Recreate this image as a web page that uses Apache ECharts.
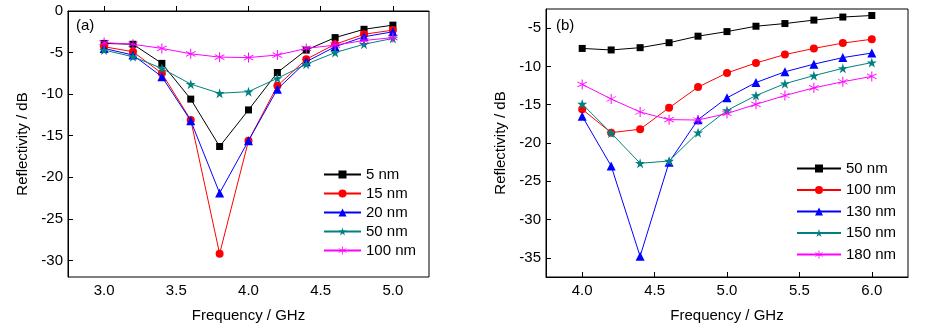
<!DOCTYPE html>
<html>
<head>
<meta charset="utf-8">
<script src="https://cdn.jsdelivr.net/npm/echarts@6/dist/echarts.min.js"></script>
<style>
  html, body { margin: 0; padding: 0; background: #fff; }
  #wrap { position: relative; width: 925px; height: 328px; }
  #chartA { position: absolute; left: 0; top: 0; width: 462px; height: 328px; }
  #chartB { position: absolute; left: 462px; top: 0; width: 463px; height: 328px; }
</style>
</head>
<body>
<div id="wrap"><div id="chartA"></div><div id="chartB"></div></div>
<script>
// Panel (a): reflectivity vs frequency for thin layers
const freqA = [3.0, 3.2, 3.4, 3.6, 3.8, 4.0, 4.2, 4.4, 4.6, 4.8, 5.0];
const namesA = ['5 nm', '15 nm', '20 nm', '50 nm', '100 nm'];
const a5nm   = [-3.9, -4.0, -6.3, -10.6, -16.3, -11.9, -7.4, -4.7, -3.2, -2.2, -1.7];
const a15nm  = [-4.3, -4.9, -7.5, -13.1, -29.2, -15.6, -9.0, -5.8, -4.0, -2.8, -2.3];
const a20nm  = [-4.5, -5.3, -7.9, -13.2, -21.9, -15.6, -9.4, -6.1, -4.3, -3.1, -2.5];
const a50nm  = [-4.7, -5.5, -6.9, -8.8, -9.9, -9.7, -8.1, -6.4, -5.0, -4.0, -3.3];
const a100nm = [-3.8, -4.0, -4.5, -5.15, -5.55, -5.6, -5.3, -4.5, -4.1, -3.55, -3.2];
const xTicksA = [3.0, 3.5, 4.0, 4.5, 5.0];
const yTicksA = [-30, -25, -20, -15, -10, -5, 0];

// Panel (b): reflectivity vs frequency for thicker layers
const freqB = [4.0, 4.2, 4.4, 4.6, 4.8, 5.0, 5.2, 5.4, 5.6, 5.8, 6.0];
const namesB = ['50 nm', '100 nm', '130 nm', '150 nm', '180 nm'];
const b50nm  = [-7.65, -7.85, -7.55, -6.9, -6.05, -5.45, -4.75, -4.4, -3.95, -3.55, -3.35];
const b100nm = [-15.6, -18.65, -18.2, -15.4, -12.7, -10.85, -9.55, -8.45, -7.65, -6.95, -6.45];
const b130nm = [-16.5, -23.0, -34.8, -22.5, -16.95, -14.1, -12.1, -10.7, -9.7, -8.85, -8.25];
const b150nm = [-14.9, -18.7, -22.65, -22.35, -18.65, -15.75, -13.8, -12.25, -11.2, -10.25, -9.5];
const b180nm = [-12.35, -14.25, -15.95, -16.95, -17.0, -16.15, -14.95, -13.8, -12.8, -12.0, -11.3];
const xTicksB = [4.0, 4.5, 5.0, 5.5, 6.0];
const yTicksB = [-35, -30, -25, -20, -15, -10, -5];

const FONT = 'Liberation Sans, Arial, sans-serif';
const STAR = 'path://M0,-100 L22,-31 L95,-31 L36,12 L59,81 L0,38 L-59,81 L-36,12 L-95,-31 L-22,-31 Z';
const ASTER = 'path://M-9,-100 L9,-100 L9,100 L-9,100 Z ' +
  'M-90.6,-43.1 L-82.6,-56.9 L90.6,43.1 L82.6,56.9 Z ' +
  'M-90.6,43.1 L-82.6,56.9 L90.6,-43.1 L82.6,-56.9 Z';

const styles = [
  { color: '#000000', symbol: 'rect', size: 7 },
  { color: '#ff0000', symbol: 'circle', size: 8 },
  { color: '#0000ff', symbol: 'triangle', size: 9 },
  { color: '#008080', symbol: STAR, size: 10 },
  { color: '#ff00ff', symbol: ASTER, size: 10 }
];

function makeSeries(names, xs, sets) {
  return sets.map((vals, i) => ({
    name: names[i],
    type: 'line',
    data: xs.map((x, k) => [x, vals[k]]),
    symbol: styles[i].symbol,
    symbolSize: styles[i].size,
    showAllSymbol: true,
    lineStyle: { color: styles[i].color, width: 1 },
    itemStyle: { color: styles[i].color },
    emphasis: { disabled: true },
    animation: false,
    z: 2 + i
  }));
}

function makeOption(cfg) {
  return {
    animation: false,
    textStyle: { fontFamily: FONT },
    grid: {
      left: cfg.grid.left, top: cfg.grid.top, width: cfg.grid.width, height: cfg.grid.height,
      show: true, borderColor: '#000', borderWidth: 1, backgroundColor: 'transparent'
    },
    xAxis: {
      type: 'value', min: cfg.xMin, max: cfg.xMax,
      name: 'Frequency / GHz', nameLocation: 'middle', nameGap: 31,
      nameTextStyle: { fontSize: 15, color: '#000', fontFamily: FONT },
      axisLine: { show: true, lineStyle: { color: '#000', width: 1 } },
      axisTick: { show: true, inside: true, length: 5, customValues: cfg.xTicks, lineStyle: { color: '#000' } },
      axisLabel: { customValues: cfg.xTicks, formatter: v => Number(v).toFixed(1), fontSize: 15, color: '#000', margin: 6, fontFamily: FONT },
      splitLine: { show: false }
    },
    yAxis: {
      type: 'value', min: cfg.yMin, max: cfg.yMax,
      name: 'Reflectivity / dB', nameLocation: 'middle', nameGap: cfg.yNameGap,
      nameTextStyle: { fontSize: 15, color: '#000', fontFamily: FONT },
      axisLine: { show: true, lineStyle: { color: '#000', width: 1 } },
      axisTick: { show: true, inside: true, length: 5, customValues: cfg.yTicks, lineStyle: { color: '#000' } },
      axisLabel: { customValues: cfg.yTicks, fontSize: 15, color: '#000', margin: 5, fontFamily: FONT },
      splitLine: { show: false }
    },
    legend: {
      orient: 'vertical', left: cfg.legend.left, top: cfg.legend.top,
      itemWidth: cfg.legend.itemWidth, itemHeight: 10, itemGap: cfg.legend.itemGap,
      data: cfg.names, selectedMode: false,
      textStyle: { fontSize: 15, lineHeight: 14, color: '#000', fontFamily: FONT }
    },
    graphic: [{
      type: 'text', left: cfg.tag.left, top: cfg.tag.top,
      style: { text: cfg.tag.text, font: '15px ' + FONT, fill: '#000' }
    }],
    series: makeSeries(cfg.names, cfg.xs, cfg.sets)
  };
}

const chartA = echarts.init(document.getElementById('chartA'), null, { renderer: 'canvas' });
chartA.setOption(makeOption({
  grid: { left: 68, top: 11, width: 361, height: 267 },
  xMin: 2.75, xMax: 5.25, yMin: -32, yMax: 0,
  xTicks: xTicksA, yTicks: yTicksA, yNameGap: 36,
  legend: { left: 318, top: 162, itemWidth: 37, itemGap: 4 },
  tag: { text: '(a)', left: 76, top: 18 },
  names: namesA, xs: freqA, sets: [a5nm, a15nm, a20nm, a50nm, a100nm]
}));

const chartB = echarts.init(document.getElementById('chartB'), null, { renderer: 'canvas' });
chartB.setOption(makeOption({
  grid: { left: 84, top: 9, width: 362, height: 268 },
  xMin: 3.75, xMax: 6.25, yMin: -37.5, yMax: -2.5,
  xTicks: xTicksB, yTicks: yTicksB, yNameGap: 36,
  legend: { left: 329, top: 156, itemWidth: 44, itemGap: 6.5 },
  tag: { text: '(b)', left: 94, top: 18 },
  names: namesB, xs: freqB, sets: [b50nm, b100nm, b130nm, b150nm, b180nm]
}));
</script>
</body>
</html>
